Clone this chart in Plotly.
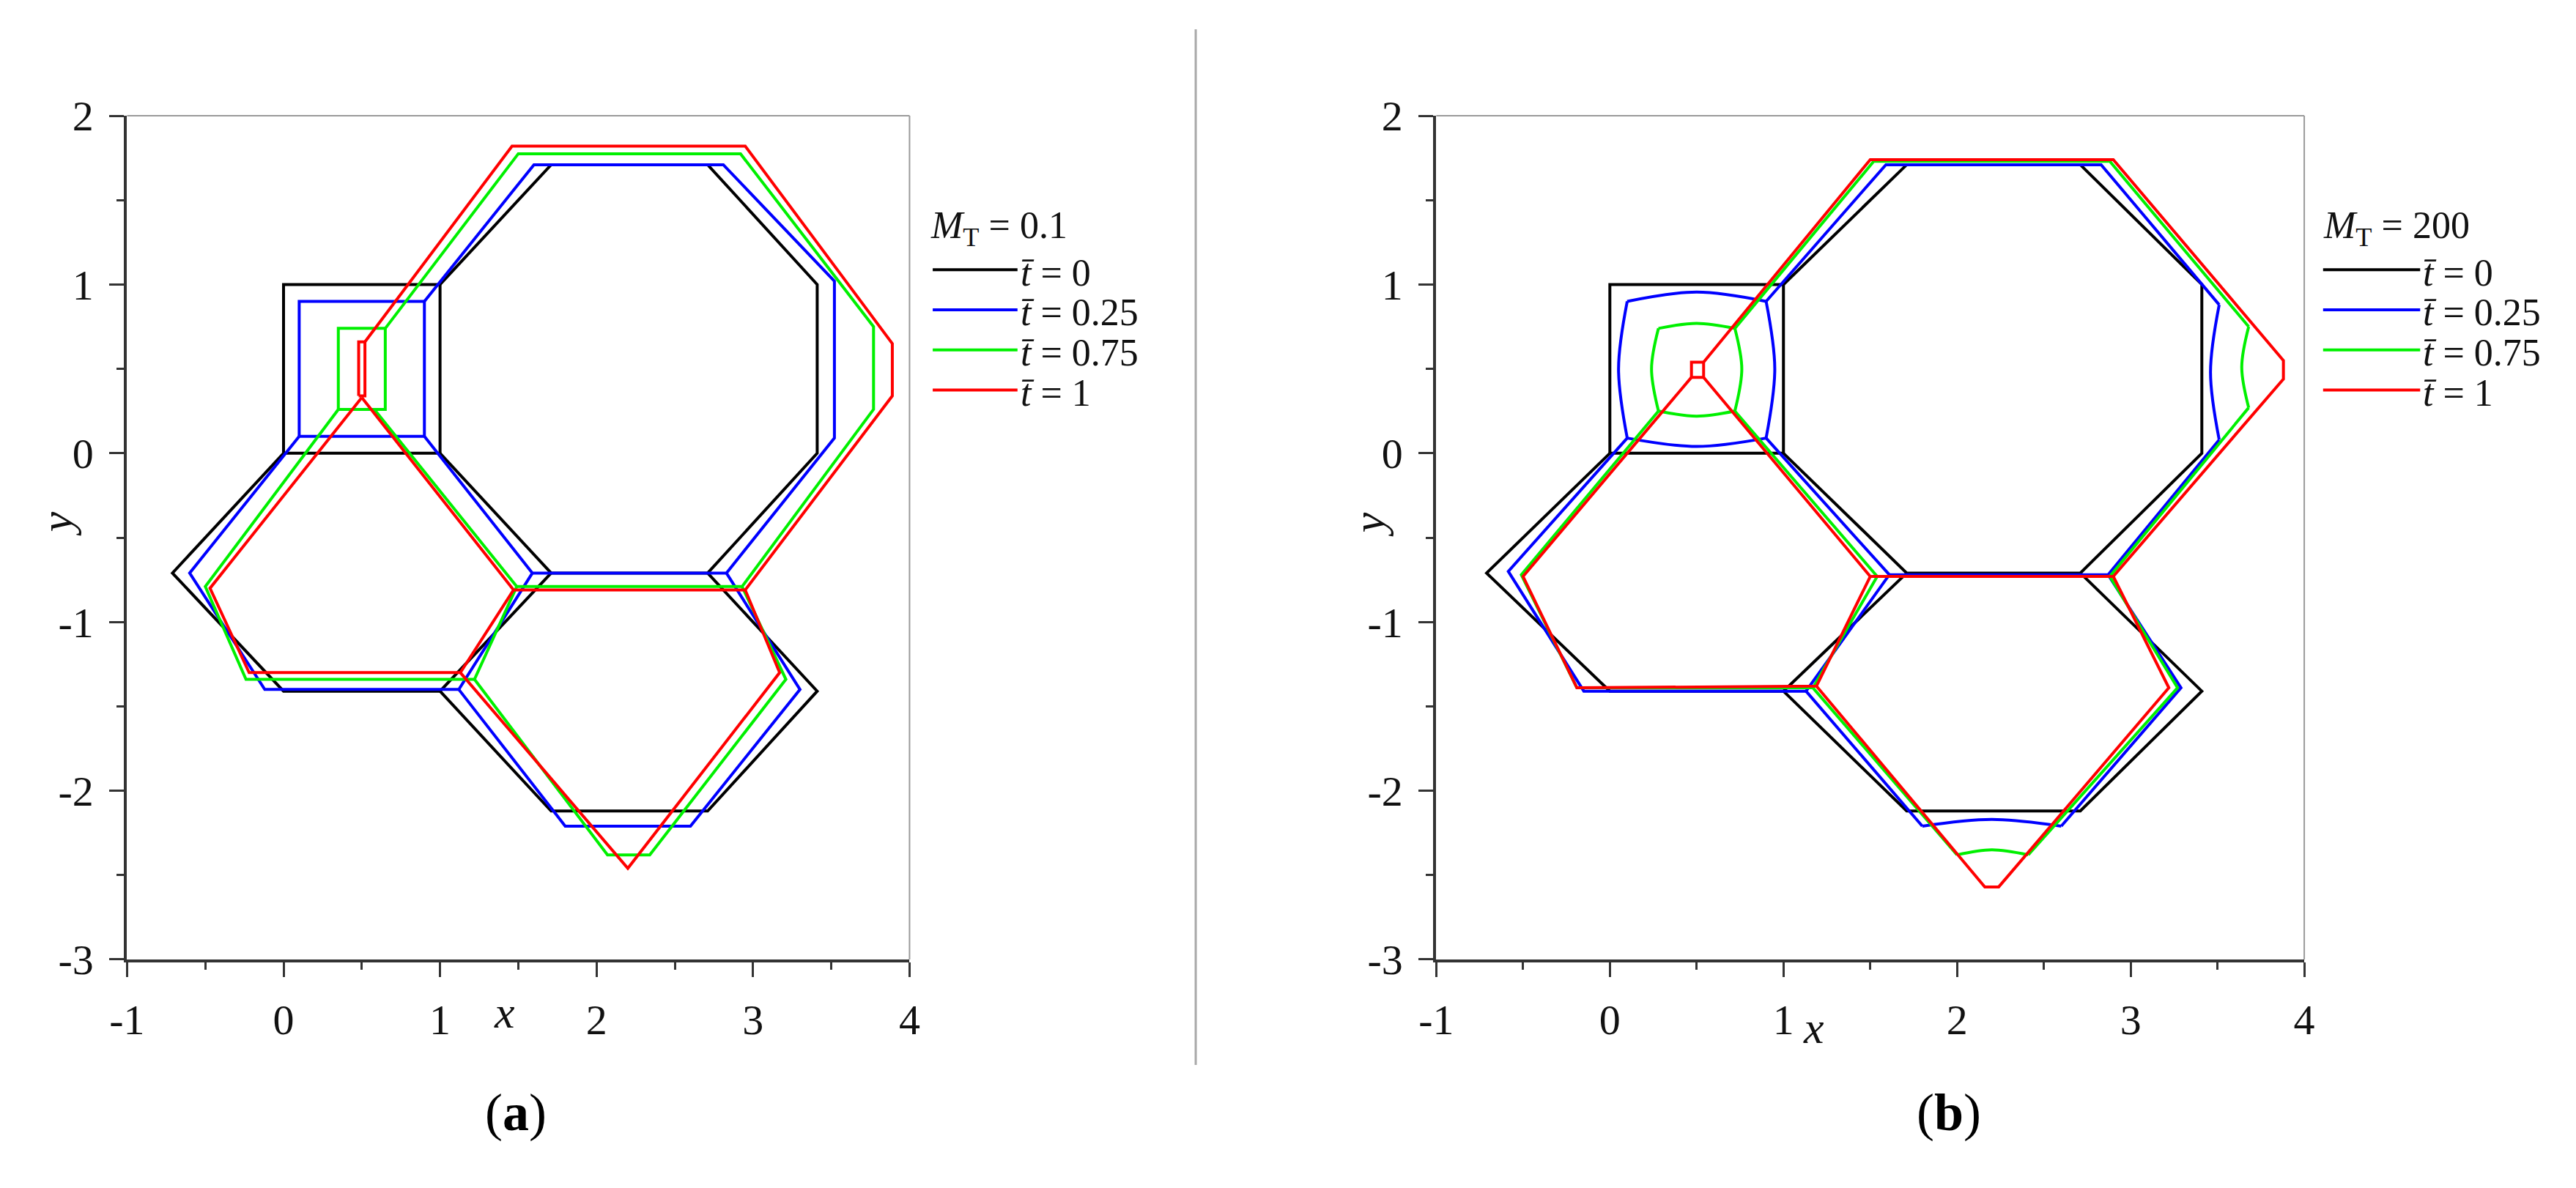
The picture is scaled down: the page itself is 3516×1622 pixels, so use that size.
import plotly.graph_objects as go

W, H = 3516, 1622
FONT = "Liberation Serif, Times New Roman, serif"

# ---------------- tick labels ----------------
X_TICK_VALS = [-1, 0, 1, 2, 3, 4]
X_TICK_TEXT = ["-1", "0", "1", "2", "3", "4"]
Y_TICK_VALS = [-3, -2, -1, 0, 1, 2]
Y_TICK_TEXT = ["-3", "-2", "-1", "0", "1", "2"]

SERIES_LABELS = ["0", "0.25", "0.75", "1"]
SERIES_COLORS = ["#000000", "#0000ff", "#00f000", "#ff0000"]
PANEL_TITLES = ["0.1", "200"]

# ---------------- t = 0 (both panels) ----------------
BLACK_X = [0, 1, 1, 0, 0, None,
           1, 1.71, 2.71, 3.41, 3.41, 2.71, 1.71, 1, None,
           0, -0.71, 0, 1, 1.71, None,
           2.71, 3.41, 2.71, 1.71, 1]
BLACK_Y = [0, 0, 1, 1, 0, None,
           1, 1.71, 1.71, 1, 0, -0.71, -0.71, 0, None,
           0, -0.71, -1.41, -1.41, -0.71, None,
           -0.71, -1.41, -2.12, -2.12, -1.41]

# ---------------- panel (a): M_T = 0.1 ----------------
A_BLUE_X = [0.1, 0.9, 0.9, 0.1, 0.1, None,
            0.9, 1.60, 2.81, 3.52, 3.52, 2.83, 1.59, 0.9, None,
            0.1, -0.60, -0.12, 1.12, 1.59, None,
            2.83, 3.30, 2.60, 1.80, 1.12]
A_BLUE_Y = [0.1, 0.1, 0.9, 0.9, 0.1, None,
            0.9, 1.71, 1.71, 1.02, 0.09, -0.71, -0.71, 0.1, None,
            0.1, -0.71, -1.40, -1.40, -0.71, None,
            -0.71, -1.40, -2.21, -2.21, -1.40]

A_GREEN_X = [0.35, 0.65, 0.65, 0.35, 0.35, None,
             0.65, 1.50, 2.92, 3.77, 3.77, 2.93, 1.49, 0.58, None,
             0.35, -0.50, -0.24, 1.22, 1.49, None,
             2.93, 3.21, 2.34, 2.07, 1.22]
A_GREEN_Y = [0.26, 0.26, 0.74, 0.74, 0.26, None,
             0.74, 1.775, 1.775, 0.75, 0.26, -0.79, -0.79, 0.26, None,
             0.26, -0.79, -1.34, -1.34, -0.79, None,
             -0.79, -1.34, -2.38, -2.38, -1.34]

A_RED_X = [0.48, 0.52, 0.52, 0.48, 0.48, None,
           0.52, 1.46, 2.95, 3.89, 3.89, 2.95, 1.47, 0.50, None,
           0.50, -0.47, -0.22, 1.13, 1.47, None,
           2.95, 3.17, 2.20, 1.13]
A_RED_Y = [0.34, 0.34, 0.66, 0.66, 0.34, None,
           0.66, 1.82, 1.82, 0.65, 0.34, -0.81, -0.81, 0.33, None,
           0.33, -0.80, -1.30, -1.30, -0.81, None,
           -0.81, -1.30, -2.46, -1.30]

# ---------------- panel (b): M_T = 200 ----------------
# straight walls
B_BLUE_X = [0.9, 1.59, 2.83, 3.51, None,
            3.51, 2.87, 1.61, 0.9, None,
            0.1, -0.585, -0.15, 1.13, 1.61, None,
            2.87, 3.29, 2.60, None,
            1.80, 1.13]
B_BLUE_Y = [0.9, 1.71, 1.71, 0.88, None,
            0.08, -0.72, -0.72, 0.09, None,
            0.09, -0.70, -1.41, -1.41, -0.72, None,
            -0.72, -1.39, -2.21, None,
            -2.21, -1.41]
# curved walls (corner, middle, corner)
B_BLUE_CX = [0.1, 0.5, 0.9, None, 0.9, 0.95, 0.9, None,
             0.9, 0.5, 0.1, None, 0.1, 0.05, 0.1, None,
             3.51, 3.46, 3.51, None, 2.60, 2.2, 1.80]
B_BLUE_CY = [0.09, 0.04, 0.09, None, 0.09, 0.5, 0.9, None,
             0.9, 0.955, 0.9, None, 0.9, 0.5, 0.09, None,
             0.88, 0.48, 0.08, None, -2.21, -2.17, -2.21]

B_GREEN_X = [0.72, 1.52, 2.88, 3.68, None,
             3.68, 2.88, 1.54, 0.72, None,
             0.28, -0.51, -0.19, 1.17, 1.54, None,
             2.88, 3.27, 2.41, None,
             2.0, 1.17]
B_GREEN_Y = [0.74, 1.73, 1.73, 0.75, None,
             0.27, -0.73, -0.73, 0.25, None,
             0.25, -0.72, -1.39, -1.39, -0.73, None,
             -0.73, -1.39, -2.38, None,
             -2.38, -1.39]
B_GREEN_CX = [0.28, 0.5, 0.72, None, 0.72, 0.76, 0.72, None,
              0.72, 0.5, 0.28, None, 0.28, 0.24, 0.28, None,
              3.68, 3.64, 3.68, None, 2.41, 2.2, 2.0]
B_GREEN_CY = [0.25, 0.22, 0.25, None, 0.25, 0.5, 0.74, None,
              0.74, 0.77, 0.74, None, 0.74, 0.5, 0.25, None,
              0.75, 0.51, 0.27, None, -2.38, -2.35, -2.38]

B_RED_X = [0.47, 0.54, 0.54, 0.47, 0.47, None,
           0.54, 1.50, 2.90, 3.88, 3.88, 2.90, 1.50, 0.54, None,
           0.47, -0.50, -0.19, 1.19, 1.50, None,
           2.90, 3.22, 2.24, 2.16, 1.19]
B_RED_Y = [0.45, 0.45, 0.54, 0.54, 0.45, None,
           0.54, 1.74, 1.74, 0.55, 0.44, -0.73, -0.73, 0.45, None,
           0.45, -0.73, -1.39, -1.38, -0.73, None,
           -0.73, -1.39, -2.57, -2.57, -1.38]

LW = 4


def px(v):
    return v / W


def py(v):
    return 1 - v / H


fig = go.Figure()


def add_line(xs, ys, color, xa, ya, name, shape="linear"):
    fig.add_trace(go.Scatter(
        x=xs, y=ys, mode="lines", name=name,
        line=dict(color=color, width=LW, shape=shape),
        xaxis=xa, yaxis=ya, showlegend=False, hoverinfo="skip",
        connectgaps=False))


# panel (a)
add_line(BLACK_X, BLACK_Y, SERIES_COLORS[0], "x", "y", "t=0")
add_line(A_BLUE_X, A_BLUE_Y, SERIES_COLORS[1], "x", "y", "t=0.25")
add_line(A_GREEN_X, A_GREEN_Y, SERIES_COLORS[2], "x", "y", "t=0.75")
add_line(A_RED_X, A_RED_Y, SERIES_COLORS[3], "x", "y", "t=1")

# panel (b)
add_line(BLACK_X, BLACK_Y, SERIES_COLORS[0], "x2", "y2", "t=0")
add_line(B_BLUE_X, B_BLUE_Y, SERIES_COLORS[1], "x2", "y2", "t=0.25")
add_line(B_BLUE_CX, B_BLUE_CY, SERIES_COLORS[1], "x2", "y2", "t=0.25", "spline")
add_line(B_GREEN_X, B_GREEN_Y, SERIES_COLORS[2], "x2", "y2", "t=0.75")
add_line(B_GREEN_CX, B_GREEN_CY, SERIES_COLORS[2], "x2", "y2", "t=0.75", "spline")
add_line(B_RED_X, B_RED_Y, SERIES_COLORS[3], "x2", "y2", "t=1")

AX_COLOR = "#333333"
tickfont = dict(family=FONT, size=58, color="#111111")


def xaxis_cfg(domain, anchor):
    return dict(domain=domain, range=[-1, 4], anchor=anchor,
                tickmode="array", tickvals=X_TICK_VALS, ticktext=X_TICK_TEXT,
                ticks="outside", ticklen=20, tickwidth=3, tickcolor=AX_COLOR,
                minor=dict(ticks="outside", ticklen=10, tickwidth=3,
                           tickcolor=AX_COLOR, dtick=0.5, tick0=0),
                showline=True, linecolor=AX_COLOR, linewidth=4,
                showgrid=False, zeroline=False, tickfont=tickfont,
                ticklabelstandoff=8, fixedrange=True)


def yaxis_cfg(anchor):
    return dict(domain=[py(1323), py(123)], range=[-3, 2], anchor=anchor,
                tickmode="array", tickvals=Y_TICK_VALS, ticktext=Y_TICK_TEXT,
                ticks="outside", ticklen=20, tickwidth=3, tickcolor=AX_COLOR,
                minor=dict(ticks="outside", ticklen=10, tickwidth=3,
                           tickcolor=AX_COLOR, dtick=0.5, tick0=0),
                showline=True, linecolor=AX_COLOR, linewidth=4,
                showgrid=False, zeroline=False, tickfont=tickfont,
                ticklabelstandoff=10, fixedrange=True)


fig.update_layout(
    width=W, height=H,
    margin=dict(l=0, r=0, t=0, b=0),
    paper_bgcolor="white", plot_bgcolor="white",
    xaxis=xaxis_cfg([px(143), px(1223)], "y"),
    yaxis=yaxis_cfg("x"),
    xaxis2=xaxis_cfg([px(1950), px(3148)], "y2"),
    yaxis2=yaxis_cfg("x2"),
    showlegend=False,
)

shapes = []
annotations = []
# light gray top/right frame lines
for xr, yr in (("x domain", "y domain"), ("x2 domain", "y2 domain")):
    shapes.append(dict(type="line", xref=xr, yref=yr, x0=0, x1=1, y0=1, y1=1,
                       line=dict(color="#9a9a9a", width=2)))
    shapes.append(dict(type="line", xref=xr, yref=yr, x0=1, x1=1, y0=0, y1=1,
                       line=dict(color="#9a9a9a", width=2)))

# divider between panels
shapes.append(dict(type="line", xref="paper", yref="paper",
                   x0=px(1618), x1=px(1618), y0=py(0), y1=py(1473),
                   line=dict(color="#aaaaaa", width=3)))

# manual legends
LEG = [  # title x, line x0, line x1
    (1250, 1255, 1372),
    (3172, 3174, 3308),
]
LEG_TITLE_Y = 283
LEG_Y0 = 342
LEG_DY = 57
legfont = dict(family=FONT, size=52, color="#111111")
for p, (tx, lx0, lx1) in enumerate(LEG):
    annotations.append(dict(
        xref="paper", yref="paper", x=px(tx), y=py(LEG_TITLE_Y),
        xanchor="left", yanchor="middle", showarrow=False,
        text="<i>M</i><sub>T</sub> = " + PANEL_TITLES[p], font=legfont))
    for i, (lab, col) in enumerate(zip(SERIES_LABELS, SERIES_COLORS)):
        yy = LEG_Y0 + i * LEG_DY
        shapes.append(dict(type="line", xref="paper", yref="paper",
                           x0=px(lx0), x1=px(lx1), y0=py(yy), y1=py(yy),
                           line=dict(color=col, width=LW)))
        annotations.append(dict(
            xref="paper", yref="paper", x=px(lx1 + 2), y=py(yy + 4),
            xanchor="left", yanchor="middle", showarrow=False,
            text="<i>t\u0304</i> = " + lab, font=legfont))

# axis titles
axfont = dict(family=FONT, size=62, color="#111111")
for (xx, yx), (xy, yy) in (((664, 1398), (45, 704)), ((2471, 1420), (1856, 704))):
    annotations.append(dict(xref="paper", yref="paper", x=px(xx), y=py(yx),
                            xanchor="center", yanchor="middle", showarrow=False,
                            text="<i>x</i>", font=axfont))
    annotations.append(dict(xref="paper", yref="paper", x=px(xy), y=py(yy),
                            xanchor="center", yanchor="middle", showarrow=False,
                            text="<i>y</i>", font=axfont, textangle=-90))

# captions
capfont = dict(family=FONT, size=72, color="#000000")
for (cx, cy), lab in (((680, 1541), "a"), ((2657, 1541), "b")):
    annotations.append(dict(xref="paper", yref="paper", x=px(cx), y=py(cy),
                            xanchor="center", yanchor="middle", showarrow=False,
                            text="(<b>" + lab + "</b>)", font=capfont))

fig.update_layout(shapes=shapes, annotations=annotations)
fig.write_html("out.html")
